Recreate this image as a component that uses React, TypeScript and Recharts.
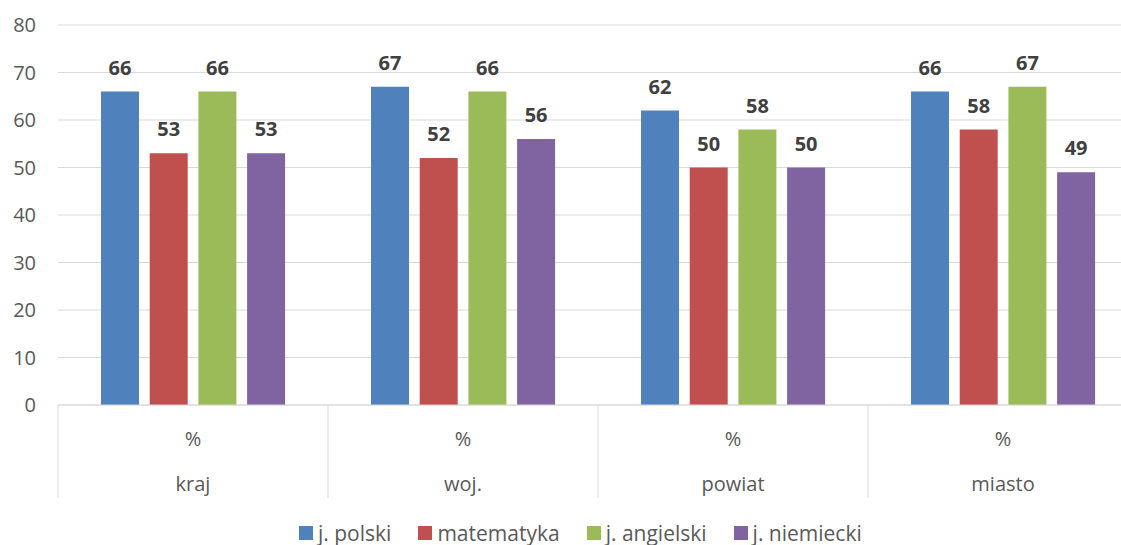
import { Bar, BarChart, CartesianGrid, LabelList, Legend, XAxis, YAxis } from 'recharts'

const regions = ['kraj', 'woj.', 'powiat', 'miasto']
const units = ['%', '%', '%', '%']
const polski = [66, 67, 62, 66]
const matematyka = [53, 52, 50, 58]
const angielski = [66, 66, 58, 67]
const niemiecki = [53, 56, 50, 49]
const yTicks = [0, 10, 20, 30, 40, 50, 60, 70, 80]

const series = [
  { key: 'polski', name: 'j. polski', color: '#4f81bd' },
  { key: 'matematyka', name: 'matematyka', color: '#c0504d' },
  { key: 'angielski', name: 'j. angielski', color: '#9bbb59' },
  { key: 'niemiecki', name: 'j. niemiecki', color: '#8064a2' },
]

const data = regions.map((region, i) => ({
  region,
  unit: units[i],
  polski: polski[i],
  matematyka: matematyka[i],
  angielski: angielski[i],
  niemiecki: niemiecki[i],
}))

const font = '"Open Sans", "Noto Sans", sans-serif'
const grey = '#595959'

function RegionTick(props: any) {
  const { x, y, payload, index } = props
  const half = payload?.offset ?? 135
  const row = data[index]
  const isLast = index === data.length - 1
  return (
    <g>
      <line x1={x - half} x2={x - half} y1={y} y2={y + 93} stroke="#d9d9d9" />
      {isLast ? <line x1={x + half} x2={x + half} y1={y} y2={y + 93} stroke="#d9d9d9" /> : null}
      <text x={x} y={y + 41} textAnchor="middle" fill={grey} fontSize={20} fontFamily={font}>
        {row?.unit}
      </text>
      <text x={x} y={y + 86} textAnchor="middle" fill={grey} fontSize={20} fontFamily={font}>
        {payload.value}
      </text>
    </g>
  )
}

function LegendContent() {
  return (
    <div
      style={{
        display: 'flex',
        alignItems: 'flex-end',
        height: 45,
        boxSizing: 'border-box',
        paddingBottom: 0,
        gap: 27,
        fontFamily: font,
        fontSize: 21,
        lineHeight: '24px',
        color: grey,
      }}
    >
      {series.map((s) => (
        <div key={s.key} style={{ display: 'flex', alignItems: 'center', gap: 5 }}>
          <span style={{ width: 14, height: 14, background: s.color, display: 'inline-block' }} />
          <span>{s.name}</span>
        </div>
      ))}
    </div>
  )
}

export default function App() {
  return (
    <div style={{ position: 'fixed', left: 0, top: 0, width: 1121, height: 545, overflow: 'hidden', background: '#fff' }}>
      <BarChart
        width={1140}
        height={545}
        data={data}
        margin={{ top: 25, right: 2, left: 0, bottom: 0 }}
        barCategoryGap={43}
        barGap={10.7}
      >
        <CartesianGrid vertical={false} stroke="#d9d9d9" />
        <XAxis
          dataKey="region"
          axisLine={{ stroke: '#d9d9d9' }}
          tickLine={false}
          tickSize={0}
          tickMargin={0}
          height={95}
          interval={0}
          tick={<RegionTick />}
        />
        <YAxis
          domain={[0, 80]}
          ticks={yTicks}
          width={58}
          axisLine={false}
          tickLine={false}
          tickSize={0}
          tickMargin={22}
          tick={{ fill: grey, fontSize: 20, fontFamily: font }}
        />
        <Legend
          verticalAlign="bottom"
          height={45}
          wrapperStyle={{ left: 299, width: 'auto', bottom: 0 }}
          content={<LegendContent />}
        />
        {series.map((s) => (
          <Bar key={s.key} dataKey={s.key} name={s.name} fill={s.color} isAnimationActive={false}>
            <LabelList
              dataKey={s.key}
              position="top"
              offset={17}
              fill="#404040"
              fontSize={20}
              fontWeight="bold"
              fontFamily={font}
            />
          </Bar>
        ))}
      </BarChart>
    </div>
  )
}
